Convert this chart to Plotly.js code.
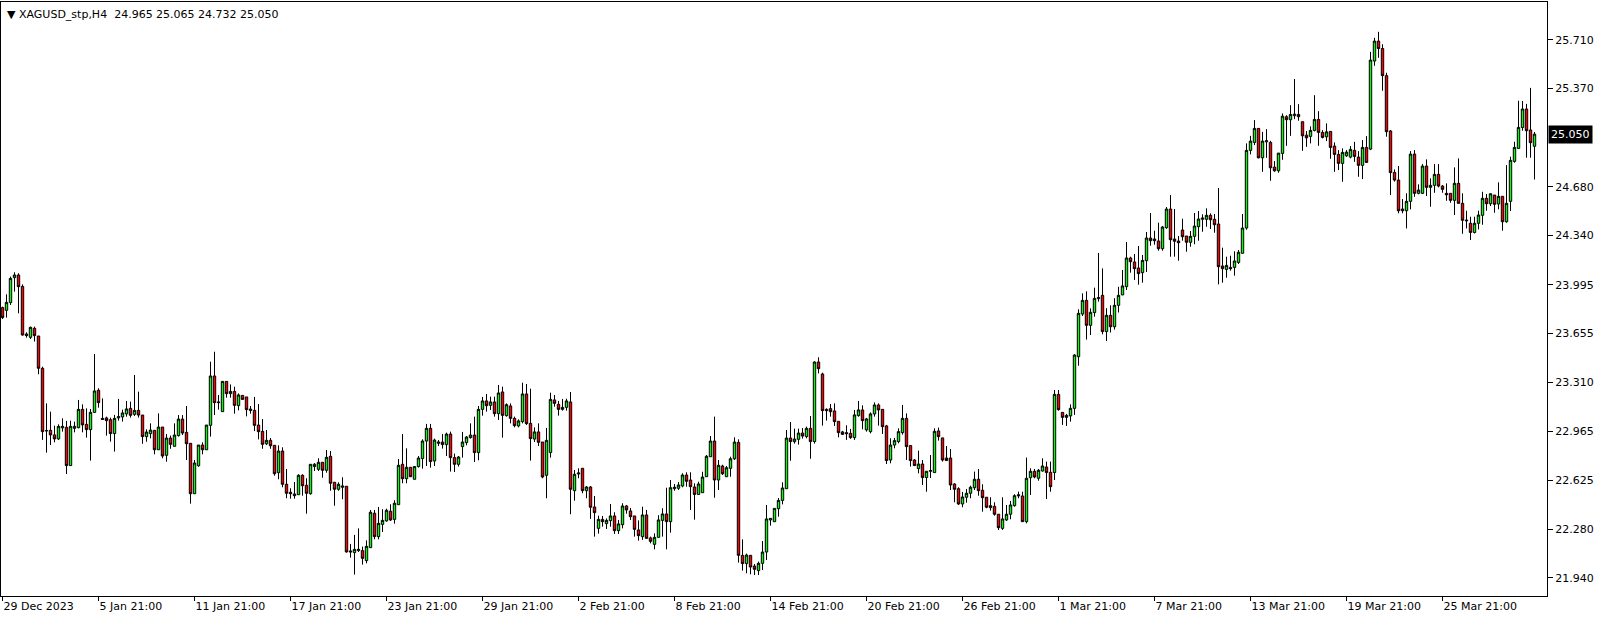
<!DOCTYPE html>
<html>
<head>
<meta charset="utf-8">
<script src="https://cdn.plot.ly/plotly-3.0.1.min.js"></script>
<style>html,body{margin:0;padding:0;background:#fff;}#chart{width:1604px;height:621px;}</style>
</head>
<body>
<div id="chart"></div>
<script>
// H4 candles, 29 Dec 2023 .. 28 Mar 2024 (bar index order)
const open = [
23.834,23.815,23.869,24.044,24.063,23.983,23.649,23.626,23.689,23.635,
23.409,22.970,22.974,22.942,22.914,22.991,22.995,22.727,22.988,22.993,
23.121,23.016,22.979,23.100,23.255,23.058,23.061,23.049,22.951,23.061,
23.068,23.089,23.128,23.086,23.114,23.081,22.930,22.951,22.974,22.838,
22.997,22.799,22.920,22.862,22.937,23.053,22.960,22.883,22.530,22.726,
22.871,22.838,23.009,23.355,23.168,23.105,23.317,23.231,23.247,23.147,
23.219,23.208,23.123,23.114,23.011,22.967,22.880,22.904,22.869,22.677,
22.829,22.596,22.540,22.528,22.523,22.659,22.589,22.530,22.720,22.701,
22.750,22.694,22.792,22.610,22.561,22.575,22.582,22.129,22.117,22.131,
22.131,22.061,22.152,22.393,22.229,22.315,22.339,22.407,22.350,22.453,
22.736,22.635,22.715,22.631,22.720,22.776,22.899,22.988,22.759,22.883,
22.892,22.874,22.948,22.783,22.736,22.860,22.888,22.923,22.941,22.818,
23.121,23.180,23.149,23.173,23.091,23.243,23.077,23.145,23.058,23.005,
23.035,23.229,23.023,22.913,22.963,22.892,22.659,22.818,23.187,23.156,
23.121,23.135,23.173,22.551,22.668,22.708,22.551,22.577,22.437,22.287,
22.350,22.320,22.341,22.374,22.271,22.313,22.444,22.409,22.374,22.276,
22.229,22.381,22.220,22.175,22.224,22.343,22.388,22.334,22.565,22.568,
22.584,22.661,22.626,22.577,22.525,22.537,22.649,22.789,22.899,22.626,
22.724,22.649,22.708,22.775,22.890,22.098,22.040,22.098,22.023,21.991,
22.042,22.121,22.346,22.334,22.425,22.483,22.565,22.920,22.895,22.911,
22.955,22.930,22.988,22.895,23.453,23.369,23.121,23.126,23.110,23.037,
22.963,22.958,22.953,22.923,23.077,23.117,22.977,22.965,23.089,23.152,
23.121,23.005,22.766,22.871,22.895,22.958,23.058,22.867,22.766,22.706,
22.738,22.643,22.687,22.678,22.970,22.921,22.780,22.780,22.598,22.565,
22.458,22.505,22.533,22.572,22.631,22.554,22.505,22.446,22.442,22.386,
22.287,22.346,22.386,22.446,22.523,22.514,22.334,22.642,22.687,22.638,
22.689,22.717,22.680,22.678,23.226,23.100,23.065,23.075,23.128,23.490,
23.789,23.885,23.710,23.799,23.897,23.920,23.666,23.780,23.700,23.850,
23.923,23.981,24.182,24.154,24.112,24.079,24.163,24.322,24.315,24.301,
24.247,24.394,24.525,24.315,24.301,24.378,24.336,24.292,24.334,24.401,
24.453,24.453,24.481,24.453,24.420,24.126,24.102,24.116,24.116,24.151,
24.215,24.392,24.936,24.992,25.090,24.884,24.996,24.992,24.819,24.793,
24.915,25.172,25.151,25.179,25.188,25.137,25.043,25.034,25.076,25.153,
25.062,25.031,25.069,24.966,24.908,24.845,24.898,24.889,24.936,24.889,
24.831,24.957,24.945,25.562,25.702,25.650,25.460,25.072,24.782,24.728,
24.525,24.513,24.579,24.910,24.635,24.635,24.826,24.677,24.691,24.768,
24.686,24.635,24.635,24.586,24.705,24.565,24.448,24.425,24.361,24.425,
24.481,24.600,24.562,24.623,24.560,24.614,24.436,24.579,24.859,24.950,
25.096,25.226,25.079,24.965];
const high = [
23.841,23.927,24.051,24.082,24.075,23.997,23.661,23.701,23.701,23.635,
23.420,23.163,23.105,23.007,23.016,23.058,23.040,23.042,23.035,23.187,
23.156,23.128,23.124,23.509,23.269,23.198,23.070,23.063,23.082,23.194,
23.119,23.180,23.175,23.362,23.245,23.081,22.981,23.023,22.974,23.093,
22.997,22.948,22.937,23.023,23.081,23.081,23.144,22.883,22.766,22.871,
22.890,23.011,23.455,23.525,23.222,23.317,23.317,23.296,23.280,23.233,
23.219,23.208,23.144,23.208,23.158,23.053,22.976,22.920,22.869,22.869,
22.855,22.703,22.568,22.612,22.666,22.666,22.638,22.736,22.745,22.778,
22.750,22.836,22.829,22.610,22.610,22.645,22.582,22.178,22.241,22.287,
22.159,22.203,22.416,22.416,22.437,22.421,22.425,22.456,22.484,22.773,
22.948,22.848,22.715,22.720,22.794,22.911,23.019,23.019,22.916,22.906,
22.948,22.958,22.965,22.811,22.794,22.963,22.934,23.023,23.070,23.145,
23.208,23.229,23.210,23.210,23.292,23.280,23.163,23.163,23.070,23.051,
23.308,23.299,23.266,22.995,23.023,22.892,22.991,23.238,23.222,23.180,
23.194,23.196,23.243,22.696,22.708,22.708,22.584,22.584,22.514,22.376,
22.374,22.357,22.458,22.400,22.346,22.463,22.451,22.430,22.374,22.343,
22.439,22.416,22.229,22.252,22.379,22.428,22.572,22.626,22.598,22.612,
22.673,22.680,22.680,22.603,22.614,22.684,22.801,22.934,23.070,22.766,
22.733,22.724,22.789,22.925,22.911,22.210,22.110,22.098,22.037,22.054,
22.198,22.451,22.357,22.427,22.500,22.610,22.976,23.032,22.986,22.986,
22.990,23.000,23.074,23.457,23.486,23.378,23.128,23.159,23.163,23.037,
22.970,23.009,22.984,23.117,23.180,23.149,23.061,23.100,23.170,23.163,
23.121,23.012,22.918,22.921,22.988,23.152,23.093,22.871,22.773,22.832,
22.766,22.687,22.801,22.988,22.993,22.921,22.864,22.843,22.603,22.575,
22.542,22.563,22.586,22.685,22.703,22.596,22.505,22.505,22.470,22.386,
22.505,22.451,22.479,22.526,22.544,22.544,22.783,22.708,22.703,22.703,
22.778,22.755,22.755,23.257,23.257,23.100,23.089,23.156,23.507,23.822,
23.934,23.948,23.829,23.974,24.217,24.109,23.830,23.850,23.900,23.980,
24.098,24.294,24.191,24.210,24.266,24.203,24.364,24.497,24.373,24.429,
24.406,24.539,24.623,24.525,24.336,24.457,24.336,24.371,24.497,24.511,
24.488,24.530,24.495,24.490,24.672,24.254,24.191,24.198,24.229,24.238,
24.490,24.985,25.038,25.148,25.090,25.066,25.085,25.003,24.861,24.917,
25.195,25.183,25.253,25.436,25.260,25.137,25.071,25.104,25.323,25.211,
25.078,25.125,25.069,24.992,24.938,24.950,24.938,24.966,24.996,24.931,
25.008,25.036,25.627,25.725,25.767,25.680,25.480,25.079,24.803,24.826,
24.595,24.635,24.931,24.938,24.698,24.840,24.873,24.740,24.840,24.840,
24.693,24.705,24.635,24.817,24.880,24.635,24.513,24.471,24.471,24.513,
24.646,24.630,24.635,24.623,24.712,24.614,24.833,24.892,24.997,25.284,
25.282,25.262,25.374,25.065];
const low = [
23.754,23.764,23.853,23.946,23.794,23.638,23.624,23.614,23.596,23.367,
22.907,22.818,22.871,22.890,22.907,22.965,22.668,22.727,22.960,22.988,
22.960,22.923,22.762,23.096,23.133,23.047,22.937,22.895,22.825,23.042,
23.035,23.070,23.063,23.075,23.063,22.880,22.894,22.918,22.806,22.838,
22.778,22.754,22.845,22.862,22.930,22.941,22.766,22.460,22.530,22.719,
22.806,22.838,22.930,23.081,23.119,23.105,23.203,23.203,23.091,23.114,
23.191,23.072,23.091,22.969,22.911,22.845,22.871,22.845,22.656,22.631,
22.575,22.498,22.495,22.495,22.523,22.516,22.390,22.523,22.689,22.689,
22.642,22.677,22.551,22.446,22.551,22.491,22.117,22.082,21.963,22.122,
22.033,22.042,22.152,22.210,22.210,22.262,22.334,22.339,22.320,22.453,
22.603,22.603,22.649,22.631,22.713,22.706,22.724,22.713,22.724,22.864,
22.846,22.794,22.685,22.682,22.720,22.783,22.869,22.916,22.752,22.764,
23.077,23.105,23.117,23.070,23.047,22.923,23.070,23.023,22.995,22.995,
23.023,23.012,22.762,22.892,22.864,22.638,22.498,22.783,23.140,23.077,
23.112,23.112,22.386,22.481,22.638,22.533,22.498,22.353,22.229,22.250,
22.299,22.283,22.299,22.248,22.248,22.287,22.390,22.346,22.229,22.201,
22.206,22.217,22.182,22.140,22.224,22.229,22.140,22.257,22.551,22.556,
22.575,22.579,22.416,22.348,22.525,22.537,22.649,22.789,22.502,22.556,
22.661,22.649,22.649,22.766,22.047,21.991,21.972,21.965,21.960,21.960,
21.995,22.065,22.306,22.334,22.369,22.455,22.565,22.761,22.881,22.874,
22.916,22.918,22.775,22.881,23.373,23.007,23.042,23.070,23.005,22.925,
22.942,22.907,22.914,22.907,23.070,22.981,22.965,22.953,23.070,23.007,
22.949,22.738,22.743,22.848,22.883,22.944,22.766,22.720,22.724,22.673,
22.591,22.544,22.640,22.678,22.902,22.755,22.762,22.556,22.470,22.451,
22.435,22.467,22.498,22.556,22.516,22.404,22.428,22.411,22.376,22.276,
22.276,22.339,22.351,22.439,22.498,22.334,22.322,22.521,22.638,22.621,
22.685,22.493,22.544,22.626,23.112,23.012,23.005,23.035,23.082,23.427,
23.775,23.610,23.642,23.771,23.876,23.647,23.600,23.660,23.680,23.800,
23.923,23.958,24.079,24.028,23.995,24.009,24.084,24.268,24.275,24.233,
24.233,24.387,24.191,24.191,24.163,24.303,24.226,24.261,24.278,24.303,
24.366,24.401,24.385,24.359,23.997,24.009,24.044,24.093,24.058,24.140,
24.215,24.380,24.908,24.973,24.880,24.786,24.884,24.723,24.786,24.779,
24.870,24.968,25.038,25.155,25.144,24.933,24.961,24.985,25.069,24.968,
25.020,25.001,24.877,24.786,24.798,24.716,24.891,24.880,24.856,24.751,
24.735,24.852,24.938,25.529,25.585,25.354,25.032,24.623,24.717,24.495,
24.495,24.389,24.523,24.611,24.628,24.630,24.616,24.541,24.639,24.677,
24.639,24.583,24.569,24.483,24.565,24.352,24.389,24.308,24.354,24.382,
24.415,24.513,24.546,24.499,24.523,24.373,24.429,24.511,24.850,24.950,
25.074,24.885,24.885,24.732];
const close = [
23.764,23.871,24.039,24.063,23.981,23.642,23.638,23.696,23.638,23.409,
22.965,22.972,22.942,22.914,23.002,23.002,22.727,23.002,23.002,23.121,
23.012,22.979,23.100,23.250,23.168,23.051,23.042,22.951,23.058,23.070,
23.096,23.124,23.079,23.114,23.081,22.930,22.962,22.976,22.838,22.997,
22.794,22.920,22.876,22.941,23.053,22.955,22.880,22.530,22.745,22.871,
22.838,23.011,23.355,23.168,23.172,23.317,23.231,23.247,23.149,23.222,
23.191,23.119,23.114,23.009,22.965,22.876,22.904,22.866,22.670,22.829,
22.596,22.533,22.530,22.516,22.659,22.586,22.533,22.736,22.736,22.750,
22.694,22.785,22.603,22.561,22.596,22.584,22.122,22.122,22.140,22.140,
22.077,22.161,22.400,22.229,22.322,22.343,22.414,22.346,22.463,22.729,
22.635,22.715,22.649,22.720,22.780,22.899,22.988,22.755,22.906,22.892,
22.874,22.948,22.783,22.736,22.787,22.892,22.927,22.941,22.818,23.121,
23.180,23.147,23.173,23.091,23.236,23.079,23.154,23.058,23.007,23.040,
23.229,23.021,22.916,22.963,22.890,22.647,22.904,23.191,23.163,23.121,
23.135,23.180,22.561,22.666,22.675,22.551,22.577,22.435,22.397,22.350,
22.334,22.343,22.374,22.271,22.318,22.444,22.416,22.369,22.280,22.236,
22.381,22.217,22.196,22.224,22.346,22.388,22.334,22.572,22.575,22.591,
22.661,22.617,22.579,22.525,22.598,22.647,22.792,22.899,22.626,22.729,
22.670,22.712,22.775,22.892,22.098,22.040,22.100,22.016,22.000,22.042,
22.121,22.353,22.357,22.427,22.483,22.570,22.920,22.895,22.913,22.955,
22.934,22.988,22.895,23.453,23.406,23.112,23.112,23.105,23.035,22.958,
22.946,22.951,22.923,23.082,23.117,23.042,23.054,23.089,23.152,23.117,
23.000,22.762,22.871,22.902,22.965,23.058,22.860,22.762,22.727,22.738,
22.643,22.687,22.692,22.967,22.930,22.766,22.762,22.591,22.561,22.458,
22.507,22.533,22.575,22.631,22.551,22.502,22.435,22.432,22.386,22.292,
22.353,22.386,22.451,22.516,22.516,22.334,22.638,22.687,22.647,22.694,
22.724,22.678,22.579,23.226,23.119,23.065,23.079,23.128,23.502,23.794,
23.885,23.710,23.801,23.899,23.904,23.666,23.780,23.700,23.850,23.920,
23.986,24.182,24.156,24.107,24.072,24.165,24.322,24.303,24.303,24.247,
24.399,24.525,24.310,24.299,24.289,24.331,24.292,24.334,24.406,24.455,
24.462,24.481,24.450,24.415,24.121,24.107,24.130,24.107,24.161,24.222,
24.392,24.936,25.001,25.090,24.884,25.001,25.003,24.814,24.793,24.917,
25.176,25.151,25.188,25.190,25.172,25.038,25.024,25.076,25.153,25.062,
25.027,25.066,24.957,24.908,24.845,24.922,24.924,24.943,24.894,24.831,
24.957,24.852,25.569,25.702,25.650,25.460,25.067,24.780,24.728,24.513,
24.513,24.579,24.910,24.635,24.658,24.826,24.677,24.691,24.768,24.686,
24.663,24.625,24.586,24.705,24.565,24.446,24.443,24.361,24.425,24.483,
24.600,24.562,24.632,24.558,24.614,24.436,24.565,24.866,24.957,25.097,
25.226,25.074,24.990,25.050];

// time-axis labels (bar index where each label sits)
const dateLabels = ['29 Dec 2023','5 Jan 21:00','11 Jan 21:00','17 Jan 21:00','23 Jan 21:00','29 Jan 21:00',
  '2 Feb 21:00','8 Feb 21:00','14 Feb 21:00','20 Feb 21:00','26 Feb 21:00','1 Mar 21:00','7 Mar 21:00',
  '13 Mar 21:00','19 Mar 21:00','25 Mar 21:00'];
const dateLabelBars = [0,24,48,72,96,120,144,168,192,216,240,264,288,312,336,360];

// price-axis ticks (the 25.025 level is hidden behind the last-price label)
const priceTicks = [21.940,22.280,22.625,22.965,23.310,23.655,23.995,24.340,24.680,25.370,25.710];

const symbolName = 'XAGUSD_stp,H4';
const lastBar = {o:24.965, h:25.065, l:24.732, c:25.050};

const xIdx = open.map((_, i) => i);
const FONT = 'DejaVu Sans, Tahoma, sans-serif';

const trace = {
  type: 'candlestick',
  x: xIdx, open: open, high: high, low: low, close: close,
  increasing: {line: {color: '#000000', width: 1}, fillcolor: '#00ff00'},
  decreasing: {line: {color: '#000000', width: 1}, fillcolor: '#ff0000'},
  whiskerwidth: 0,
  hoverinfo: 'skip',
  showlegend: false
};

const layout = {
  width: 1604, height: 621,
  margin: {l: 1, r: 57, t: 2, b: 25, pad: 0},
  paper_bgcolor: '#ffffff', plot_bgcolor: '#ffffff',
  showlegend: false,
  hovermode: false,
  boxgap: 0.15,
  font: {family: FONT, size: 11, color: '#000000'},
  xaxis: {
    type: 'linear',
    range: [-0.375, 386.125],
    rangeslider: {visible: false},
    showgrid: false, zeroline: false,
    showline: true, mirror: true, linecolor: '#000000', linewidth: 1,
    tickmode: 'array', tickvals: dateLabelBars, ticktext: dateLabels,
    ticks: 'outside', ticklen: 4, tickcolor: '#000000', tickwidth: 1,
    ticklabelposition: 'outside right',
    tickfont: {family: FONT, size: 11, color: '#000000'}
  },
  yaxis: {
    side: 'right',
    range: [21.813, 25.976],
    showgrid: false, zeroline: false,
    showline: true, mirror: true, linecolor: '#000000', linewidth: 1,
    tickmode: 'array', tickvals: priceTicks,
    ticktext: priceTicks.map(v => v.toFixed(3)),
    ticks: 'outside', ticklen: 5, tickcolor: '#000000', tickwidth: 1,
    tickfont: {family: FONT, size: 11, color: '#000000'}
  },
  annotations: [
    {
      xref: 'paper', yref: 'paper', x: 0, y: 1, xanchor: 'left', yanchor: 'top',
      xshift: 4, yshift: -4, showarrow: false, align: 'left',
      text: '▼ ' + symbolName + '\u00a0\u00a0' + [lastBar.o, lastBar.h, lastBar.l, lastBar.c].map(v => v.toFixed(3)).join(' '),
      font: {family: FONT, size: 11, color: '#000000'}
    },
    {
      xref: 'paper', yref: 'y', x: 1, y: lastBar.c, xanchor: 'left', yanchor: 'middle',
      xshift: 1, showarrow: false,
      text: lastBar.c.toFixed(3),
      bgcolor: '#000000', borderpad: 2,
      font: {family: FONT, size: 11, color: '#ffffff'}
    }
  ]
};

Plotly.newPlot('chart', [trace], layout, {staticPlot: true, displayModeBar: false});
</script>
</body>
</html>
